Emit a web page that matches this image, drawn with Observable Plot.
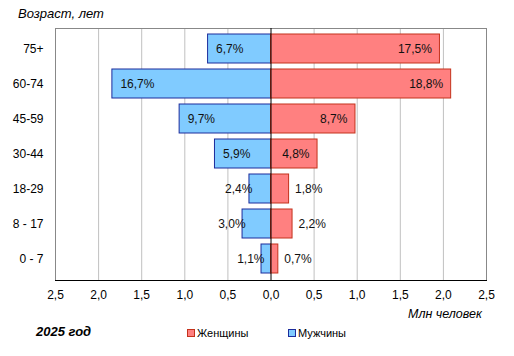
<!DOCTYPE html>
<html><head><meta charset="utf-8">
<script src="https://cdn.jsdelivr.net/npm/d3@7"></script>
<script src="https://cdn.jsdelivr.net/npm/@observablehq/plot@0.6"></script>
<style>
body{margin:0;background:#fff;font-family:"Liberation Sans",Arial,sans-serif;}
#wrap{position:relative;width:514px;height:356px;}
.t{position:absolute;white-space:nowrap;color:#000;}
.sq{display:inline-block;width:6px;height:6px;margin-right:2px;vertical-align:0px;}
</style></head>
<body><div id="wrap"></div>
<script>
const ages = ["75+","60-74","45-59","30-44","18-29","8 - 17","0 - 7"];
const men = [0.73, 1.84, 1.06, 0.65, 0.25, 0.33, 0.11];
const women = [1.96, 2.09, 0.98, 0.54, 0.21, 0.25, 0.085];
const menPct = ["6,7%","16,7%","9,7%","5,9%","2,4%","3,0%","1,1%"];
const womenPct = ["17,5%","18,8%","8,7%","4,8%","1,8%","2,2%","0,7%"];
const xTicks = [-2.5,-2,-1.5,-1,-0.5,0,0.5,1,1.5,2,2.5];

const menData = ages.map((a,i)=>({age:a, v:-men[i], label:menPct[i], big: men[i] >= 0.5}));
const womenData = ages.map((a,i)=>({age:a, v:women[i], label:womenPct[i], big: women[i] >= 0.5}));
const fmt = d => Math.abs(d).toFixed(1).replace(".", ",");
const lbl = {fontFamily:"Liberation Sans, Arial, sans-serif", fontSize:12, fill:"#111"};

const chart = Plot.plot({
  width:514, height:356,
  marginLeft:55, marginRight:28, marginTop:28, marginBottom:76,
  style:{fontFamily:"Liberation Sans, Arial, sans-serif", fontSize:"12px", color:"#000", background:"#fff"},
  x:{domain:[-2.5,2.5], ticks:xTicks, tickFormat:fmt, tickSize:0, tickPadding:10, label:null},
  y:{domain:ages, padding:0.17, tickSize:0, tickPadding:12, label:null},
  marks:[
    Plot.ruleX(xTicks.filter(d=>Math.abs(d)<2.5 && d!==0), {stroke:"#c0c0c0", strokeWidth:1}),
    Plot.frame({stroke:"#888"}),
    Plot.frame({anchor:"bottom", stroke:"#000"}),
    Plot.barX(menData, {y:"age", x1:0, x2:"v", fill:"#80CBFF", stroke:"#1c2c9c", strokeWidth:1}),
    Plot.barX(womenData, {y:"age", x1:0, x2:"v", fill:"#FF8080", stroke:"#c4321c", strokeWidth:1}),
    Plot.ruleX([0], {stroke:"#000", strokeWidth:1}),
    Plot.text(menData.filter(d=>d.big), {y:"age", x:"v", text:"label", textAnchor:"start", dx:8, ...lbl}),
    Plot.text(menData.filter(d=>!d.big), {y:"age", x:"v", text:"label", textAnchor:"end", dx:3, ...lbl}),
    Plot.text(womenData.filter(d=>d.big), {y:"age", x:"v", text:"label", textAnchor:"end", dx:-8, ...lbl}),
    Plot.text(womenData.filter(d=>!d.big), {y:"age", x:"v", text:"label", textAnchor:"start", dx:6, ...lbl})
  ]
});
const wrap = document.getElementById("wrap");
wrap.appendChild(chart);

function addText(html, css){
  const d = document.createElement("div");
  d.className = "t"; d.innerHTML = html; d.style.cssText += css;
  wrap.appendChild(d);
}
addText("Возраст, лет", "left:18px;top:6px;font-size:13px;font-style:italic;");
addText("Млн человек", "left:408px;top:307px;font-size:12.5px;font-style:italic;");
addText("2025 год", "left:36px;top:324px;font-size:13px;font-style:italic;font-weight:bold;");
addText('<span class="sq" style="background:#FF8080;border:1px solid #c4321c"></span>Женщины', "left:187px;top:327px;font-size:11px;");
addText('<span class="sq" style="background:#80CBFF;border:1px solid #1c2c9c"></span>Мужчины', "left:288px;top:327px;font-size:11px;");
</script></body></html>
